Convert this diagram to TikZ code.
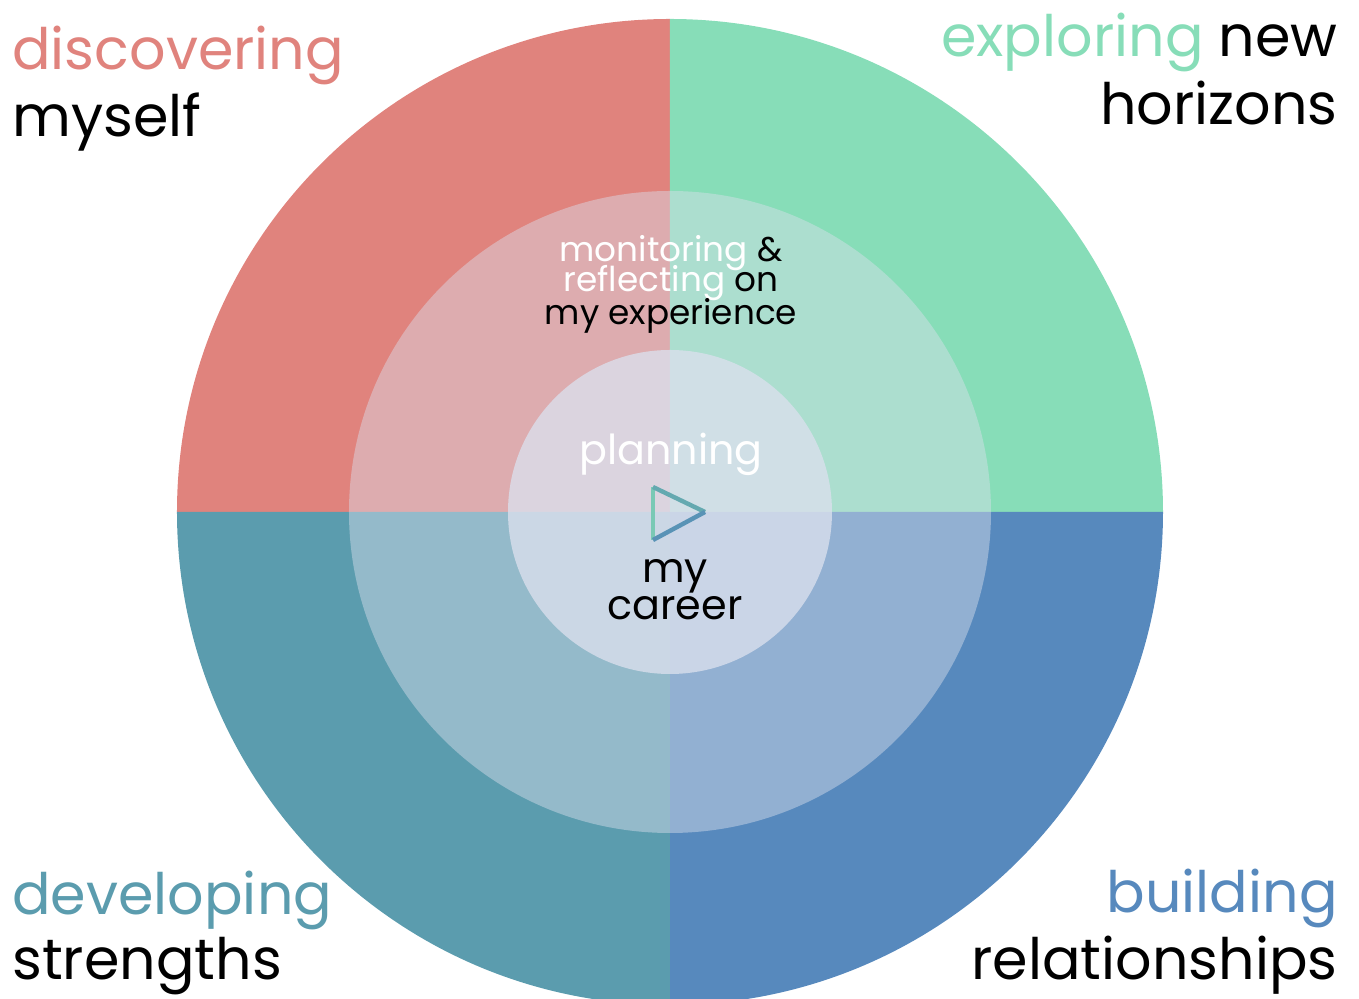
\documentclass[tikz,border=0pt]{standalone}
\usepackage{fontspec}
\setmainfont{Poppins}
\usepackage{tikz}

\definecolor{discred}{HTML}{E0837D}
\definecolor{explgreen}{HTML}{87DDB8}
\definecolor{develteal}{HTML}{5B9CAE}
\definecolor{buildblue}{HTML}{5789BD}
\definecolor{veil}{HTML}{DBE0ED}

\begin{document}
\begin{tikzpicture}[x=0.02cm,y=0.02cm]
    \tikzstyle{ring}=[fill=veil,fill opacity=0.45]
    \tikzstyle{core}=[fill=veil,fill opacity=0.78]
    \tikzstyle{big}=[inner sep=0pt,font=\fontsize{32.5}{38}\selectfont]
    \tikzstyle{small}=[inner sep=0pt,font=\fontsize{19.5}{23}\selectfont]
    \tikzstyle{mid}=[inner sep=0pt,font=\fontsize{23.5}{28}\selectfont]

    \def\Ro{493}
    \def\Rm{321}
    \def\Ri{162}

    \useasboundingbox (-670,-487) rectangle (689,512);
    \clip (-670,-487) rectangle (689,512);

    % four quarters
    \fill[discred]    (0,0) -- (-\Ro,0) arc (180:90:\Ro) -- cycle;
    \fill[explgreen]  (0,0) -- (0,\Ro) arc (90:0:\Ro) -- cycle;
    \fill[buildblue]  (0,0) -- (\Ro,0) arc (0:-90:\Ro) -- cycle;
    \fill[develteal]  (0,0) -- (0,-\Ro) arc (-90:-180:\Ro) -- cycle;

    % middle ring and core
    \fill[ring] (0,0) circle (\Rm);
    \fill[core] (0,0) circle (\Ri);

    % play sign
    \draw[line width=2.5pt,explgreen!70!develteal] (-17,-28) -- (-17,25);
    \draw[line width=2.5pt,develteal!80!explgreen] (-17,25) -- (35,0);
    \draw[line width=2.5pt,develteal!50!buildblue] (35,0) -- (-17,-28);

    % corner labels
    \node[big,anchor=base west,text=discred] (disc1) at (-658,442) {discovering};
    \node[big,anchor=base west] (disc2) at (-658,375) {myself};
    \node[big,anchor=base east] (expl1) at (668,455) {\textcolor{explgreen}{exploring} new};
    \node[big,anchor=base east] (expl2) at (668,387) {horizons};
    \node[big,anchor=base west,text=develteal] (devel1) at (-658,-403) {developing};
    \node[big,anchor=base west] (devel2) at (-658,-468) {strengths};
    \node[big,anchor=base east,text=buildblue] (build1) at (668,-401) {building};
    \node[big,anchor=base east] (build2) at (668,-468) {relationships};

    % ring text
    \node[small,anchor=base] (mon) at (1,250) {\textcolor{white}{monitoring} \&};
    \node[small,anchor=base] (refl) at (1,220) {\textcolor{white}{reflecting} on};
    \node[small,anchor=base] (exper) at (1,187) {my experience};

    % core text
    \node[mid,anchor=base,text=white] (plan) at (1,47) {planning};
    \node[mid,anchor=base] (my) at (5,-71) {my};
    \node[mid,anchor=base] (career) at (5,-108) {career};
\end{tikzpicture}
\end{document}
